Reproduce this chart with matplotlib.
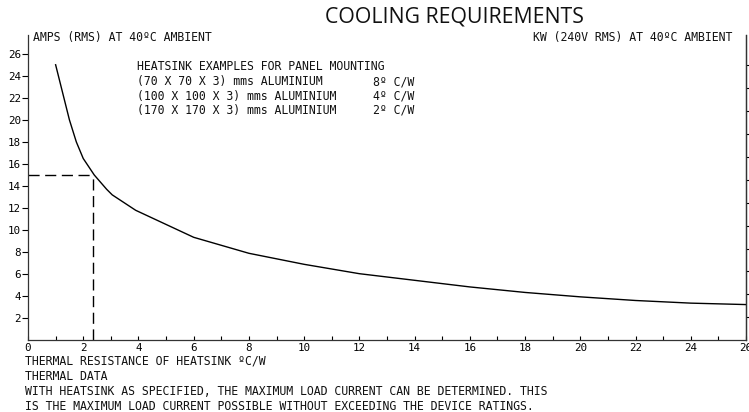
import matplotlib
matplotlib.use("Agg")
import matplotlib.pyplot as plt
import numpy as np

# ---- data ----
resistance = [1.0, 1.5, 1.75, 2.0, 2.4, 2.85, 3.05, 3.9, 6.0, 8.0, 10.0, 12.0,
              14.0, 16.0, 18.0, 20.0, 22.0, 24.0, 26.0]
amps = [25.0, 20.0, 18.0, 16.5, 15.0, 13.7, 13.2, 11.8, 9.35, 7.9, 6.9, 6.05,
        5.45, 4.85, 4.35, 3.95, 3.62, 3.38, 3.25]
guide_x = 2.37
guide_y = 15.0
x_ticklabels = [0, 2, 4, 6, 8, 10, 12, 14, 16, 18, 20, 22, 24, 26]
y_ticklabels = [2, 4, 6, 8, 10, 12, 14, 16, 18, 20, 22, 24, 26]
kw_ticks = [0.5, 1.0, 1.5, 2.0, 2.5, 3.0, 3.5, 4.0, 4.5, 5.0, 5.5, 6.0]
volts = 240.0

title = "COOLING REQUIREMENTS"
left_label = "AMPS (RMS) AT 40\u00baC AMBIENT"
right_label = "KW (240V RMS) AT 40\u00baC AMBIENT"
box_title = "HEATSINK EXAMPLES FOR PANEL MOUNTING"
box_rows = ["(70 X 70 X 3) mms ALUMINIUM",
            "(100 X 100 X 3) mms ALUMINIUM",
            "(170 X 170 X 3) mms ALUMINIUM"]
box_vals = ["8\u00ba C/W", "4\u00ba C/W", "2\u00ba C/W"]
xlabel = "THERMAL RESISTANCE OF HEATSINK \u00baC/W"
notes = ["THERMAL DATA",
         "WITH HEATSINK AS SPECIFIED, THE MAXIMUM LOAD CURRENT CAN BE DETERMINED. THIS",
         "IS THE MAXIMUM LOAD CURRENT POSSIBLE WITHOUT EXCEEDING THE DEVICE RATINGS."]

W, H = 749, 412
MONO = "DejaVu Sans Mono"
fig = plt.figure(figsize=(W / 100, H / 100), dpi=100)
ax = fig.add_axes([28 / W, 1 - 340.4 / H, (746 - 28) / W, (340.4 - 35) / H])

ax.plot(resistance, amps, color="black", lw=1.0)
ax.plot([0, guide_x], [guide_y, guide_y], color="black", lw=1.0, dashes=(8, 4))
ax.plot([guide_x, guide_x], [0, guide_y], color="black", lw=1.0, dashes=(8, 4))

ax.set_xlim(0, 26)
ax.set_ylim(0, 27.7)
ax.spines["top"].set_visible(False)
for s in ["left", "bottom", "right"]:
    ax.spines[s].set_linewidth(0.9)
    ax.spines[s].set_color("#333333")

fs_tick = 7.8
ax.set_xticks(x_ticklabels)
ax.set_xticklabels([str(v) for v in x_ticklabels], fontsize=fs_tick, family=MONO)
ax.set_xticks(np.arange(1, 27, 2), minor=True)
ax.tick_params(axis="x", which="both", direction="in", length=3, width=0.8, pad=2)
ax.set_yticks(y_ticklabels)
ax.set_yticklabels([str(v) for v in y_ticklabels], fontsize=fs_tick, family=MONO)
ax.tick_params(axis="y", direction="out", length=4, width=0.8, pad=1)

sec = ax.secondary_yaxis("right", functions=(lambda a: a * volts / 1000.0,
                                             lambda k: k * 1000.0 / volts))
sec.set_yticks(kw_ticks)
sec.set_yticklabels([])
sec.tick_params(direction="out", length=4, width=0.8)
sec.spines["right"].set_linewidth(0.9)
sec.spines["right"].set_color("#333333")

fs = 8.3

def ptext(x, y, s, size=fs, ha="left", va="center", family=MONO):
    return fig.text(x / W, 1 - y / H, s, fontsize=size, ha=ha, va=va,
                    family=family, color="#111111")

renderer = fig.canvas.get_renderer()
t = ptext(454.5, 17, title, size=15, ha="center", family="Open Sans")
t.set_fontsize(15 * 259 / t.get_window_extent(renderer).width)

ptext(33, 38, left_label)
ptext(732, 38, right_label, ha="right")
ptext(137, 67, box_title)
for i, (r, v) in enumerate(zip(box_rows, box_vals)):
    ptext(137, 82 + 14.2 * i, r)
    ptext(373, 82 + 14.2 * i, v)
ptext(25, 361, xlabel)
for i, n in enumerate(notes):
    ptext(25, 376 + 15.2 * i, n)

fig.savefig("out.png", dpi=100)
